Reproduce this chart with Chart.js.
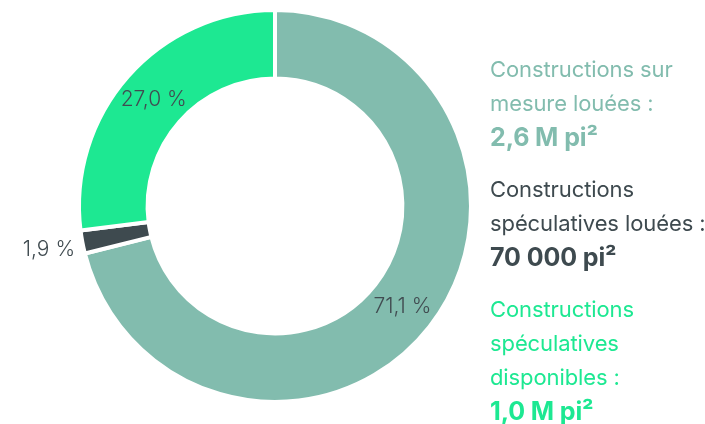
<!DOCTYPE html>
<html>
<head>
<meta charset="utf-8">
<script src="https://cdn.jsdelivr.net/npm/chart.js@4.4.0/dist/chart.umd.min.js"></script>
<style>
    html, body { margin: 0; padding: 0; background: #fff; }
    #wrap { position: relative; width: 705px; height: 424px; overflow: hidden; }
    #chart { position: absolute; left: 0; top: 0; }
    #legend {
        position: absolute; left: 490px; top: 52px; width: 260px;
        font-family: Inter, sans-serif; font-size: 22px; line-height: 34px;
        letter-spacing: -0.1px; white-space: nowrap;
    }
    #legend .item { margin-bottom: 18px; }
    #legend .val { display: block; font-weight: 700; font-size: 25px; line-height: 34px; }
</style>
</head>
<body>
<div id="wrap">
    <canvas id="chart" width="705" height="424"></canvas>
    <div id="legend"></div>
</div>
<script>
// Daten
const categories = [
    'Constructions sur<br>mesure louées :',
    'Constructions<br>spéculatives louées :',
    'Constructions<br>spéculatives<br>disponibles :'
];
const shares = [71.1, 1.9, 27.0];
const shareLabels = ['71,1 %', '1,9 %', '27,0 %'];
const areaLabels = ['2,6 M pi²', '70 000 pi²', '1,0 M pi²'];

// Farben
const COLORS = ['#82bcae', '#3e4a4f', '#1de892'];
const TEXT_DARK = '#414c51';

// Prozent-Beschriftungen auf den Segmenten
const sliceLabels = {
    id: 'sliceLabels',
    afterDatasetsDraw(chart) {
        const ctx = chart.ctx;
        const arcs = chart.getDatasetMeta(0).data;
        ctx.save();
        ctx.font = '300 21px Inter, sans-serif';
        ctx.fillStyle = TEXT_DARK;
        ctx.textAlign = 'center';
        ctx.textBaseline = 'middle';
        arcs.forEach((arc, i) => {
            const p = arc.getProps(['x', 'y', 'startAngle', 'endAngle', 'innerRadius', 'outerRadius'], true);
            const mid = (p.startAngle + p.endAngle) / 2;
            // kleine Segmente außerhalb beschriften
            const r = shares[i] < 5 ? p.outerRadius + 34 : (p.innerRadius + p.outerRadius) / 2;
            ctx.fillText(shareLabels[i], p.x + r * Math.cos(mid), p.y + r * Math.sin(mid) + 1);
        });
        ctx.restore();
    }
};

function buildLegend() {
    const el = document.getElementById('legend');
    el.innerHTML = categories.map((c, i) =>
        `<div class="item" style="color:${COLORS[i]}">${c}<span class="val">${areaLabels[i]}</span></div>`
    ).join('');
}

function init() {
    buildLegend();
    new Chart(document.getElementById('chart'), {
        type: 'doughnut',
        data: {
            labels: categories,
            datasets: [{
                data: shares,
                backgroundColor: COLORS,
                borderColor: '#ffffff',
                borderWidth: 4,
                hoverOffset: 0
            }]
        },
        options: {
            responsive: false,
            animation: false,
            cutout: '65%',
            layout: { padding: { left: 77, right: 232, top: 8, bottom: 20 } },
            plugins: {
                legend: { display: false },
                tooltip: { enabled: false }
            }
        },
        plugins: [sliceLabels]
    });
}

document.addEventListener('DOMContentLoaded', init);
</script>
</body>
</html>
